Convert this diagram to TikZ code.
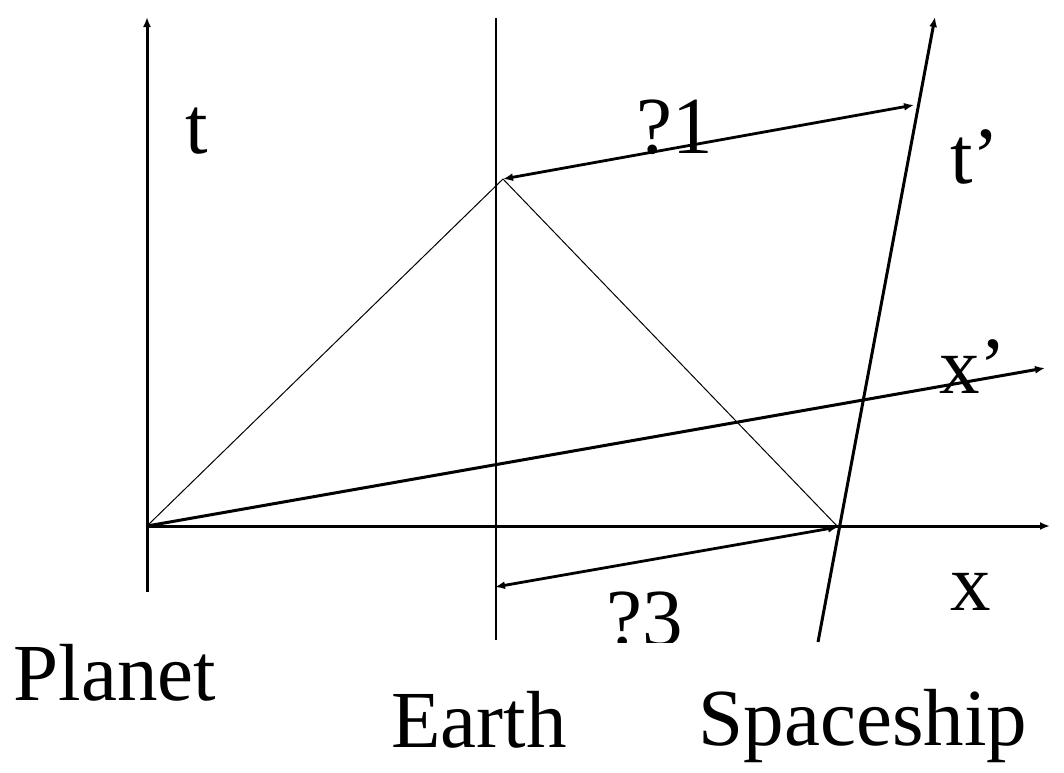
\documentclass[tikz,border=0pt]{standalone}
\usepackage{fontspec}
\setmainfont{Liberation Serif}
\usetikzlibrary{arrows.meta}
\begin{document}
\begin{tikzpicture}[x=0.5pt,y=-0.5pt,
  axis/.style={line width=1.5pt,-{Latex[length=5pt,width=4pt]}},
  thin line/.style={line width=0.5pt},
  world/.style={line width=0.7pt},
  dist/.style={line width=1.4pt,{Latex[length=5pt,width=4pt]}-{Latex[length=5pt,width=4pt]}},
  lbl/.style={inner sep=0pt,anchor=base,font=\fontsize{40.5}{48}\selectfont}]
\useasboundingbox (0,0) rectangle (1064,772);
% coordinates
\coordinate (O) at (147,526);
\coordinate (tTop) at (147,17);
\coordinate (tBot) at (147,592);
\coordinate (eTop) at (496,18);
\coordinate (eBot) at (496,640);
\coordinate (xEnd) at (1050,526);
\coordinate (xpEnd) at (1045,368);
\coordinate (tpStart) at (818,642);
\coordinate (tpEnd) at (935,17);
\coordinate (apex) at (503,179);
\coordinate (S) at (838,527);
\coordinate (q1) at (914,105);
\coordinate (q3) at (495,587);
% axes
\draw[axis] (tBot) -- (tTop);
\draw[axis] (O) -- (xEnd);
\draw[axis] (O) -- (xpEnd);
\draw[axis] (tpStart) -- (tpEnd);
\draw[world] (eTop) -- (eBot);
% light cone
\draw[thin line] (O) -- (apex) -- (S);
% distance arrows
\draw[dist] (apex) -- (q1);
\draw[dist] (q3) -- (S);
% labels
\node[lbl] (lt) at (197,153) {t};
\node[lbl] (l1) at (675,153) {?1};
\node[lbl] (ltp) at (975,183) {t’};
\node[lbl] (lxp) at (973,393) {x’};
\node[lbl] (lx) at (971,610) {x};
\begin{scope}
\clip (540,560) rectangle (760,642);
\node[lbl] (l3) at (645,645) {?3};
\end{scope}
\node[lbl] (planet) at (115,700) {Planet};
\node[lbl] (earth) at (479,747) {Earth};
\node[lbl] (ship) at (863,745) {Spaceship};
\end{tikzpicture}
\end{document}
